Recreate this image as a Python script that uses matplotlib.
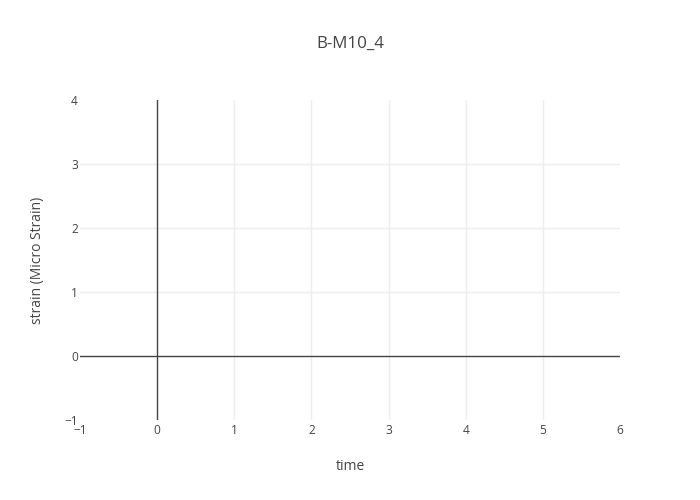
import matplotlib.pyplot as plt

plt.rcParams['font.family'] = ['Open Sans', 'DejaVu Sans']

# пустой график, данных нет - только оси
title = "B-M10_4"
x_label = "time"
y_label = "strain (Micro Strain)"
x_range = [-1, 6]
y_range = [-1, 4]
x_ticks = [-1, 0, 1, 2, 3, 4, 5, 6]
y_ticks = [-1, 0, 1, 2, 3, 4]
time = []
strain = []

fig = plt.figure(figsize=(7, 5), dpi=100)
ax = fig.add_axes([80 / 700, 80 / 500, 540 / 700, 320 / 500])

ax.plot(time, strain)
ax.set_xlim(x_range)
ax.set_ylim(y_range)
ax.set_xticks(x_ticks)
ax.set_yticks(y_ticks)

for s in ax.spines.values():
    s.set_visible(False)

# сетка кроме краев
for xv in x_ticks[1:-1]:
    if xv != 0:
        ax.axvline(xv, color='#eeeeee', lw=1, zorder=0)
for yv in y_ticks[1:-1]:
    if yv != 0:
        ax.axhline(yv, color='#eeeeee', lw=1, zorder=0)
ax.axvline(0, color='#444444', lw=1, zorder=1)
ax.axhline(0, color='#444444', lw=1, zorder=1)

ax.tick_params(axis='both', length=0, labelsize=8.6, labelcolor='#444444')
ax.tick_params(axis='x', pad=3)
ax.tick_params(axis='y', pad=1.5)

fig.text(350 / 700, 1 - 44 / 500, title, ha='center', va='center', fontsize=12.2, color='#444444')
fig.text(350 / 700, 1 - 467 / 500, x_label, ha='center', va='center', fontsize=10, color='#444444')
fig.text(37 / 700, 1 - 260 / 500, y_label, ha='center', va='center', rotation=90, fontsize=10, color='#444444')

fig.savefig('out.png', dpi=100)
